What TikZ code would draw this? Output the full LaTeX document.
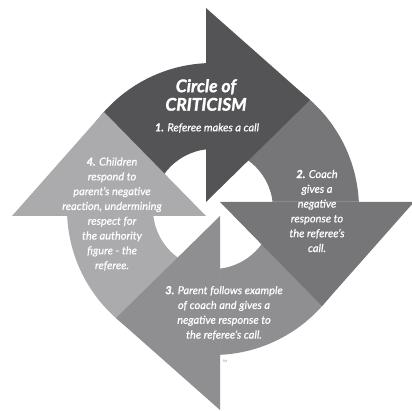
\documentclass[tikz,border=0pt]{standalone}
\usepackage{fontspec}
\setmainfont{Lato}[ItalicFeatures={FakeBold=0.6},BoldItalicFeatures={FakeBold=1.5}]
\definecolor{cone}{RGB}{84,84,86}
\definecolor{ctwo}{RGB}{118,118,121}
\definecolor{cthree}{RGB}{143,143,146}
\definecolor{cfour}{RGB}{171,171,173}
\begin{document}
\begin{tikzpicture}[x=1pt,y=1pt,
  txt/.style={text=white, font=\itshape\fontsize{11}{14.8}\selectfont, align=center, inner sep=0pt},
  ttl/.style={text=white, font=\bfseries\itshape\fontsize{17.5}{18.5}\selectfont, align=center, inner sep=0pt},
  ring/.style={even odd rule}]
\useasboundingbox (-213,-202) rectangle (199,209);
% bodies
\begin{scope}
  \clip (-7,-7) rectangle (-230,230);
  \fill[cone,ring] (0,0) circle (146) (0,0) circle (60);
\end{scope}
\begin{scope}
  \clip (-7,7) rectangle (230,230);
  \fill[ctwo,ring] (0,0) circle (146) (0,0) circle (60);
\end{scope}
\begin{scope}
  \clip (7,7) rectangle (230,-230);
  \fill[cthree,ring] (0,0) circle (146) (0,0) circle (60);
\end{scope}
\begin{scope}
  \clip (7,-7) rectangle (-230,-230);
  \fill[cfour,ring] (0,0) circle (146) (0,0) circle (60);
\end{scope}
% heads
\fill[cone] (-7,7) -- (-7,201) -- (97,109) -- cycle;
\fill[ctwo] (7,7) -- (201,7) -- (109,-97) -- cycle;
\fill[cthree] (7,-7) -- (7,-201) -- (-97,-109) -- cycle;
\fill[cfour] (-7,-7) -- (-201,-7) -- (-109,97) -- cycle;
% texts
\node[ttl] (title) at (-7,114) {Circle of\\CRITICISM};
\node[txt] (s1) at (-6,81) {\textbf{1.} Referee makes a call};
\node[txt] (s2) at (104,-2) {\textbf{2.} Coach\\gives a\\negative\\response to\\the referee’s\\call.};
\node[txt] (s3) at (11,-104) {\textbf{3.} Parent follows example\\of coach and gives a\\negative response to\\the referee’s call.};
\node[txt] (s4) at (-101,-5) {\textbf{4.} Children\\respond to\\parent's negative\\reaction, undermining\\respect for\\the authority\\figure - the\\referee.};
\node[text=gray, font=\fontsize{3}{3}\selectfont, inner sep=0pt] (tm) at (12,-152) {TM};
\end{tikzpicture}
\end{document}
